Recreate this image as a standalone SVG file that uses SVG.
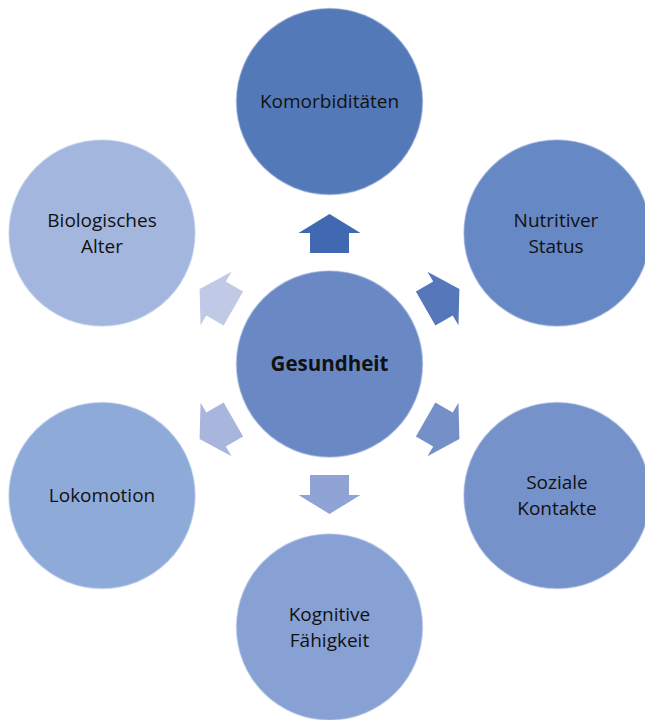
<svg xmlns="http://www.w3.org/2000/svg" width="645" height="720" viewBox="0 0 645 720">
  <style>
    .node circle { stroke-width: 1.5; stroke-opacity: 0.5; }
    .lbl { font-family: "Open Sans", "Noto Sans", "Liberation Sans", sans-serif; font-size: 19px; fill: #111; text-anchor: middle; dominant-baseline: central; }
    .bold { font-weight: bold; font-size: 20.5px; }
  </style>
  <defs>
    <polygon id="arrow" points="111,-19.5 131,-19.5 131,-31 150,0 131,31 131,19.5 111,19.5"/>
  </defs>
  <rect width="645" height="720" fill="#ffffff"/>

  <g id="connectors">
    <use href="#arrow" fill="#4169b1" transform="translate(329.5 364) rotate(-90)"/>
    <use href="#arrow" fill="#5678bb" transform="translate(329.5 364) rotate(-30)"/>
    <use href="#arrow" fill="#7590c9" transform="translate(329.5 364) rotate(30)"/>
    <use href="#arrow" fill="#8fa4d5" transform="translate(329.5 364) rotate(90)"/>
    <use href="#arrow" fill="#a8b6dd" transform="translate(329.5 364) rotate(150)"/>
    <use href="#arrow" fill="#c0cae6" transform="translate(329.5 364) rotate(210)"/>
  </g>

  <g id="gesundheit" class="node">
    <circle cx="329.5" cy="364" r="93" fill="#6a89c4" stroke="#8ea6d6"/>
    <text class="lbl bold" x="329.5" y="363">Gesundheit</text>
  </g>
  <g id="komorbiditaeten" class="node">
    <circle cx="329.5" cy="101.5" r="93" fill="#5479b9" stroke="#7f9bcd"/>
    <text class="lbl" x="329.5" y="101">Komorbiditäten</text>
  </g>
  <g id="nutritiver-status" class="node">
    <circle cx="557" cy="233" r="93" fill="#6688c4" stroke="#8ea6d6"/>
    <text class="lbl" x="556" y="220">Nutritiver</text>
    <text class="lbl" x="556" y="246">Status</text>
  </g>
  <g id="soziale-kontakte" class="node">
    <circle cx="557" cy="495.5" r="93" fill="#7592ca" stroke="#9ab0da"/>
    <text class="lbl" x="557" y="482">Soziale</text>
    <text class="lbl" x="557" y="508">Kontakte</text>
  </g>
  <g id="kognitive-faehigkeit" class="node">
    <circle cx="329.5" cy="627" r="93" fill="#87a1d4" stroke="#a7bbe0"/>
    <text class="lbl" x="329.5" y="614">Kognitive</text>
    <text class="lbl" x="329.5" y="640">Fähigkeit</text>
  </g>
  <g id="lokomotion" class="node">
    <circle cx="102" cy="495.5" r="93" fill="#8eaad8" stroke="#aec0e3"/>
    <text class="lbl" x="102" y="495">Lokomotion</text>
  </g>
  <g id="biologisches-alter" class="node">
    <circle cx="102" cy="233" r="93" fill="#a2b6de" stroke="#bccbe8"/>
    <text class="lbl" x="102" y="220">Biologisches</text>
    <text class="lbl" x="102" y="246">Alter</text>
  </g>
</svg>
